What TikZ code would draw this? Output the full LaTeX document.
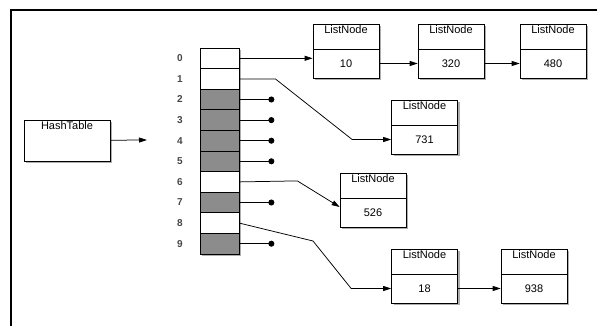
\documentclass[tikz,border=0pt]{standalone}
\usepackage{fontspec}
\setmainfont{Liberation Sans}
\usetikzlibrary{arrows.meta,calc,positioning,shadows}
\definecolor{SlotGray}{RGB}{140,140,140}
\definecolor{IndexGray}{RGB}{70,70,70}

% list node: name, position, value
\newcommand{\listnode}[3]{%
  \node[lbox] (n#1) at (#2) {};
  \node[lval, above=0pt of n#1.south] (v#1) {#3};
}

\begin{document}
\begin{tikzpicture}[x=1pt, y=-1pt, font=\fontsize{11}{13}\selectfont,
    boxshadow/.style={drop shadow={shadow xshift=2pt, shadow yshift=-2pt, opacity=0.45, fill=black!70}},
    lbox/.style={draw, fill=white, line width=0.7pt, minimum width=66pt, minimum height=54pt,
                 inner sep=0pt, boxshadow, label={[anchor=north, inner sep=1.5pt]north:ListNode}},
    lval/.style={draw, line width=0.7pt, minimum width=66pt, minimum height=29pt, inner sep=0pt},
    hbox/.style={draw, fill=white, line width=0.7pt, minimum width=86pt, minimum height=41pt,
                 inner sep=0pt, boxshadow, label={[anchor=north, inner sep=1.5pt]north:HashTable}},
    slot/.style={draw, line width=0.7pt, minimum width=39pt, minimum height=20.6pt, inner sep=0pt},
    idx/.style={text=IndexGray, font=\fontsize{10}{12}\selectfont\bfseries},
    link/.style={line width=0.75pt, -{Triangle[length=8pt,width=5pt]}},
    nil/.style={line width=0.75pt, -{Circle[length=6pt]}}]
    \useasboundingbox (0,0) rectangle (597,326);

    % Frame
    \draw[line width=2pt] (597,10) -- (11,10) -- (11,326);

    % Hash table
    \node[hbox] (hash) at (67,140.5) {};
    \coordinate (hashend) at (147,140);
    \draw[link] (hash) -- (hashend);

    % Buckets
    \fill[white, boxshadow] (200,48) rectangle (239,254);
    \foreach \i/\c in {0/white,1/white,2/SlotGray,3/SlotGray,4/SlotGray,
                       5/SlotGray,6/white,7/SlotGray,8/white,9/SlotGray} {
        \node[slot, fill=\c] (s\i) at (219.5,{58.3+20.6*\i}) {};
        \node[idx] (i\i) at (180,{58.3+20.6*\i}) {\i};
    }

    % Empty buckets
    \foreach \i in {2,3,4,5,7,9}
        \draw[nil] (s\i.east) -- ++(35,0);

    % List nodes
    \listnode{10}{346,51}{10}
    \listnode{320}{451,51}{320}
    \listnode{480}{553,51}{480}
    \listnode{731}{424.5,127}{731}
    \listnode{526}{373,200}{526}
    \listnode{18}{424.5,276}{18}
    \listnode{938}{534,276}{938}

    % Chains
    \draw[link] (s0.east) -- (s0.east -| v10.west);
    \draw[link] (v10) -- (v320);
    \draw[link] (v320) -- (v480);
    \draw[link] (s1.east) -- ++(36,0) -- ([xshift=-39pt]v731.west) -- (v731.west);
    \draw[link] (s6.east) -- ++(58,-1) -- ([yshift=5.5pt]v526.west);
    \draw[link] (s8.east) -- (313,241) -- ([xshift=-40pt]v18.west) -- (v18.west);
    \draw[link] (v18) -- (v938);
\end{tikzpicture}
\end{document}
